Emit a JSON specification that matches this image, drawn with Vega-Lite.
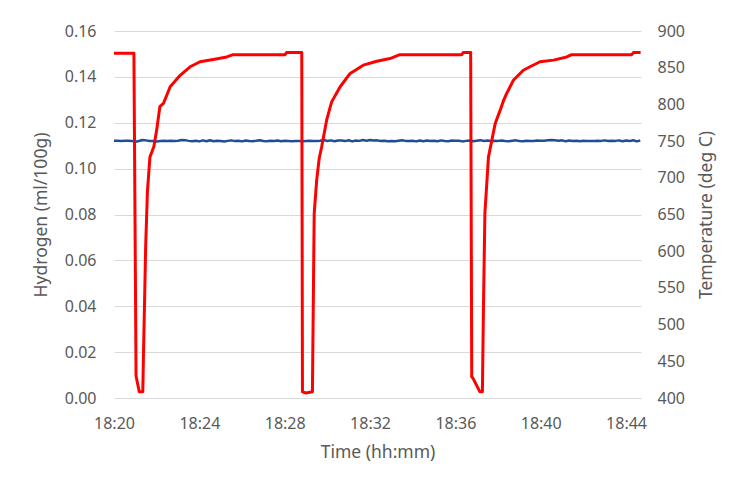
{
  "$schema": "https://vega.github.io/schema/vega-lite/v6.json",
  "width": 527,
  "height": 367,
  "autosize": {"type": "none"},
  "padding": {"left": 114, "top": 31, "right": 113, "bottom": 101},
  "background": "white",
  "config": {
    "view": {"stroke": null},
    "font": "Noto Sans",
    "axis": {
      "labelFont": "Noto Sans",
      "labelFontSize": 16,
      "labelColor": "#595959",
      "titleFont": "Noto Sans",
      "titleFontSize": 17.5,
      "titleFontWeight": "normal",
      "titleColor": "#595959",
      "ticks": false,
      "tickSize": 0,
      "domain": false,
      "gridColor": "#D9D9D9",
      "gridWidth": 1,
      "labelOverlap": false
    }
  },
  "datasets": {
    "temp": [
      {"t":"18:20:00","v":750.4},{"t":"18:20:10","v":750.4},{"t":"18:20:20","v":750.3},{"t":"18:20:30","v":750.4},{"t":"18:20:40","v":750.4},{"t":"18:20:50","v":750.3},
      {"t":"18:21:00","v":749.0},{"t":"18:21:10","v":750.2},{"t":"18:21:20","v":751.6},{"t":"18:21:30","v":751.0},{"t":"18:21:40","v":750.1},{"t":"18:21:50","v":750.3},
      {"t":"18:22:00","v":749.6},{"t":"18:22:10","v":750.2},{"t":"18:22:20","v":750.4},{"t":"18:22:30","v":750.3},{"t":"18:22:40","v":750.6},{"t":"18:22:50","v":750.2},
      {"t":"18:23:00","v":750.5},{"t":"18:23:10","v":751.4},{"t":"18:23:20","v":751.3},{"t":"18:23:30","v":750.3},{"t":"18:23:40","v":749.7},{"t":"18:23:50","v":750.6},
      {"t":"18:24:00","v":749.6},{"t":"18:24:10","v":751.0},{"t":"18:24:20","v":749.7},{"t":"18:24:30","v":751.1},{"t":"18:24:40","v":749.8},{"t":"18:24:50","v":750.6},
      {"t":"18:25:00","v":750.1},{"t":"18:25:10","v":749.5},{"t":"18:25:20","v":750.3},{"t":"18:25:30","v":751.0},{"t":"18:25:40","v":750.0},{"t":"18:25:50","v":750.5},
      {"t":"18:26:00","v":749.6},{"t":"18:26:10","v":750.8},{"t":"18:26:20","v":750.2},{"t":"18:26:30","v":749.8},{"t":"18:26:40","v":750.4},{"t":"18:26:50","v":751.2},
      {"t":"18:27:00","v":750.1},{"t":"18:27:10","v":749.7},{"t":"18:27:20","v":750.5},{"t":"18:27:30","v":750.0},{"t":"18:27:40","v":750.9},{"t":"18:27:50","v":749.8},
      {"t":"18:28:00","v":750.4},{"t":"18:28:10","v":750.2},{"t":"18:28:20","v":749.9},{"t":"18:28:30","v":750.1},{"t":"18:28:40","v":750.3},{"t":"18:28:50","v":749.8},
      {"t":"18:29:00","v":750.2},{"t":"18:29:10","v":750.4},{"t":"18:29:20","v":750.3},{"t":"18:29:30","v":750.3},{"t":"18:29:40","v":750.5},{"t":"18:29:50","v":751.4},
      {"t":"18:30:00","v":750.2},{"t":"18:30:10","v":751.0},{"t":"18:30:20","v":749.7},{"t":"18:30:30","v":750.8},{"t":"18:30:40","v":750.9},{"t":"18:30:50","v":750.0},
      {"t":"18:31:00","v":751.1},{"t":"18:31:10","v":749.6},{"t":"18:31:20","v":750.9},{"t":"18:31:30","v":750.3},{"t":"18:31:40","v":751.4},{"t":"18:31:50","v":750.6},
      {"t":"18:32:00","v":751.6},{"t":"18:32:10","v":750.8},{"t":"18:32:20","v":751.0},{"t":"18:32:30","v":750.2},{"t":"18:32:40","v":750.6},{"t":"18:32:50","v":749.8},
      {"t":"18:33:00","v":750.1},{"t":"18:33:10","v":749.7},{"t":"18:33:20","v":750.4},{"t":"18:33:30","v":751.1},{"t":"18:33:40","v":750.3},{"t":"18:33:50","v":750.3},
      {"t":"18:34:00","v":750.5},{"t":"18:34:10","v":749.6},{"t":"18:34:20","v":750.9},{"t":"18:34:30","v":749.8},{"t":"18:34:40","v":750.7},{"t":"18:34:50","v":750.0},
      {"t":"18:35:00","v":750.6},{"t":"18:35:10","v":749.7},{"t":"18:35:20","v":751.0},{"t":"18:35:30","v":750.2},{"t":"18:35:40","v":749.9},{"t":"18:35:50","v":750.8},
      {"t":"18:36:00","v":750.4},{"t":"18:36:10","v":750.5},{"t":"18:36:20","v":749.6},{"t":"18:36:30","v":750.3},{"t":"18:36:40","v":750.9},{"t":"18:36:50","v":749.8},
      {"t":"18:37:00","v":750.5},{"t":"18:37:10","v":751.3},{"t":"18:37:20","v":750.2},{"t":"18:37:30","v":750.8},{"t":"18:37:40","v":750.0},{"t":"18:37:50","v":750.4},
      {"t":"18:38:00","v":750.3},{"t":"18:38:10","v":750.9},{"t":"18:38:20","v":750.1},{"t":"18:38:30","v":749.8},{"t":"18:38:40","v":750.5},{"t":"18:38:50","v":751.0},
      {"t":"18:39:00","v":750.2},{"t":"18:39:10","v":749.7},{"t":"18:39:20","v":750.6},{"t":"18:39:30","v":750.3},{"t":"18:39:40","v":750.0},{"t":"18:39:50","v":750.8},
      {"t":"18:40:00","v":750.4},{"t":"18:40:10","v":750.5},{"t":"18:40:20","v":751.3},{"t":"18:40:30","v":751.4},{"t":"18:40:40","v":751.2},{"t":"18:40:50","v":750.6},
      {"t":"18:41:00","v":751.0},{"t":"18:41:10","v":749.9},{"t":"18:41:20","v":750.9},{"t":"18:41:30","v":750.1},{"t":"18:41:40","v":750.6},{"t":"18:41:50","v":749.8},
      {"t":"18:42:00","v":750.4},{"t":"18:42:10","v":750.3},{"t":"18:42:20","v":750.2},{"t":"18:42:30","v":750.3},{"t":"18:42:40","v":750.4},{"t":"18:42:50","v":750.3},
      {"t":"18:43:00","v":751.0},{"t":"18:43:10","v":750.2},{"t":"18:43:20","v":750.4},{"t":"18:43:30","v":750.3},{"t":"18:43:40","v":751.0},{"t":"18:43:50","v":749.7},
      {"t":"18:44:00","v":750.8},{"t":"18:44:10","v":750.0},{"t":"18:44:20","v":751.2},{"t":"18:44:30","v":749.6},{"t":"18:44:40","v":750.7}
    ],
    "h2": [
      {"t":"18:20:00","v":0.1503},{"t":"18:20:56","v":0.1503},{"t":"18:21:02","v":0.0096},{"t":"18:21:11","v":0.0027},{"t":"18:21:21","v":0.0027},
      {"t":"18:21:23","v":0.02},{"t":"18:21:27","v":0.05},{"t":"18:21:29","v":0.066},{"t":"18:21:34","v":0.09},{"t":"18:21:41","v":0.105},
      {"t":"18:21:52","v":0.1095},{"t":"18:22:00","v":0.1168},{"t":"18:22:09","v":0.127},{"t":"18:22:19","v":0.1284},{"t":"18:22:38","v":0.1357},
      {"t":"18:23:06","v":0.1407},{"t":"18:23:34","v":0.1444},{"t":"18:24:02","v":0.1466},{"t":"18:24:39","v":0.1476},{"t":"18:25:17","v":0.1487},
      {"t":"18:25:35","v":0.1497},{"t":"18:28:01","v":0.1497},{"t":"18:28:05","v":0.1506},{"t":"18:28:48","v":0.1506},{"t":"18:28:50","v":0.0027},
      {"t":"18:29:00","v":0.0022},{"t":"18:29:18","v":0.0027},{"t":"18:29:21","v":0.05},{"t":"18:29:23","v":0.0805},{"t":"18:29:30","v":0.095},
      {"t":"18:29:37","v":0.1044},{"t":"18:29:44","v":0.1095},{"t":"18:29:58","v":0.1211},{"t":"18:30:12","v":0.1291},{"t":"18:30:36","v":0.1357},
      {"t":"18:31:04","v":0.1415},{"t":"18:31:41","v":0.1451},{"t":"18:32:19","v":0.1468},{"t":"18:32:56","v":0.148},{"t":"18:33:24","v":0.1497},
      {"t":"18:36:18","v":0.1497},{"t":"18:36:22","v":0.1506},{"t":"18:36:43","v":0.1506},{"t":"18:36:46","v":0.0092},{"t":"18:36:49","v":0.0088},
      {"t":"18:37:09","v":0.0027},{"t":"18:37:16","v":0.0027},{"t":"18:37:19","v":0.04},{"t":"18:37:23","v":0.0805},{"t":"18:37:33","v":0.105},
      {"t":"18:37:52","v":0.1197},{"t":"18:38:06","v":0.1255},{"t":"18:38:15","v":0.1295},{"t":"18:38:24","v":0.1327},{"t":"18:38:43","v":0.1385},
      {"t":"18:39:11","v":0.1429},{"t":"18:39:30","v":0.1444},{"t":"18:39:58","v":0.1466},{"t":"18:40:36","v":0.1473},{"t":"18:41:13","v":0.1487},
      {"t":"18:41:27","v":0.1497},{"t":"18:44:16","v":0.1497},{"t":"18:44:21","v":0.1506},{"t":"18:44:41","v":0.1506}
    ]
  },
  "layer": [
    {
      "data": {"name": "temp", "format": {"parse": {"t": "date:'%H:%M:%S'"}}},
      "mark": {"type": "line", "color": "#1F4E96", "strokeWidth": 2.5, "strokeJoin": "round"},
      "encoding": {
        "x": {
          "field": "t", "type": "temporal",
          "scale": {"domain": [
            {"year": 1900, "month": 1, "date": 1, "hours": 18, "minutes": 20},
            {"year": 1900, "month": 1, "date": 1, "hours": 18, "minutes": 44, "seconds": 42}
          ], "nice": false},
          "axis": {
            "title": "Time (hh:mm)",
            "format": "%H:%M",
            "grid": false,
            "labelFlush": false,
            "labelPadding": 17,
            "titlePadding": 12,
            "values": [
              {"year": 1900, "month": 1, "date": 1, "hours": 18, "minutes": 20},
              {"year": 1900, "month": 1, "date": 1, "hours": 18, "minutes": 24},
              {"year": 1900, "month": 1, "date": 1, "hours": 18, "minutes": 28},
              {"year": 1900, "month": 1, "date": 1, "hours": 18, "minutes": 32},
              {"year": 1900, "month": 1, "date": 1, "hours": 18, "minutes": 36},
              {"year": 1900, "month": 1, "date": 1, "hours": 18, "minutes": 40},
              {"year": 1900, "month": 1, "date": 1, "hours": 18, "minutes": 44}
            ]
          }
        },
        "y": {
          "field": "v", "type": "quantitative",
          "scale": {"domain": [400, 900], "nice": false, "zero": false},
          "axis": {
            "orient": "right",
            "title": "Temperature (deg C)",
            "titleAngle": 270,
            "titleBaseline": "top",
            "grid": false,
            "values": [400, 450, 500, 550, 600, 650, 700, 750, 800, 850, 900],
            "labelPadding": 16,
            "titlePadding": 13
          }
        }
      }
    },
    {
      "data": {"name": "h2", "format": {"parse": {"t": "date:'%H:%M:%S'"}}},
      "mark": {"type": "line", "color": "#FF0000", "strokeWidth": 3, "strokeJoin": "round"},
      "encoding": {
        "x": {"field": "t", "type": "temporal"},
        "y": {
          "field": "v", "type": "quantitative",
          "scale": {"domain": [0, 0.16], "nice": false},
          "axis": {
            "orient": "left",
            "title": "Hydrogen (ml/100g)",
            "format": ".2f",
            "grid": true,
            "values": [0, 0.02, 0.04, 0.06, 0.08, 0.1, 0.12, 0.14, 0.16],
            "labelPadding": 18,
            "titlePadding": 14
          }
        }
      }
    }
  ],
  "resolve": {"scale": {"y": "independent"}}
}
